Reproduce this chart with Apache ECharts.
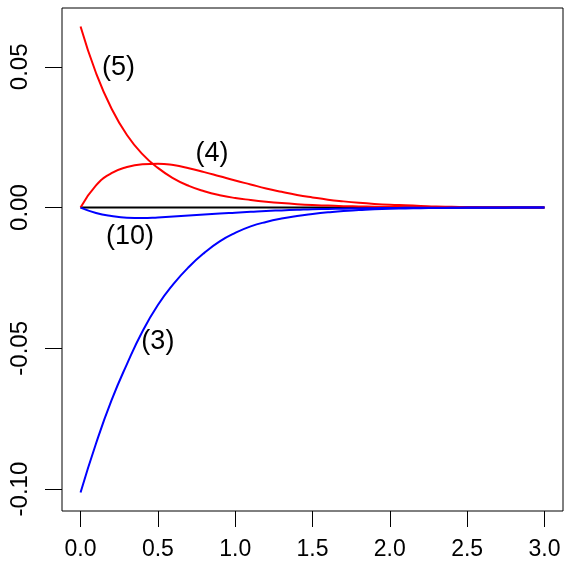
<!DOCTYPE html>
<html>
<head>
<meta charset="utf-8">
<script src="https://cdn.jsdelivr.net/npm/echarts@6/dist/echarts.min.js"></script>
<style>
  html, body { margin: 0; padding: 0; background: #fff; }
  #chart { width: 572px; height: 572px; }
</style>
</head>
<body>
<div id="chart"></div>
<script>
const xs = [0, 0.1, 0.2, 0.3, 0.4, 0.5, 0.6, 0.7, 0.8, 0.9, 1.0,
  1.1, 1.2, 1.3, 1.4, 1.5, 1.6, 1.7, 1.8, 1.9, 2.0,
  2.1, 2.2, 2.3, 2.4, 2.5, 2.6, 2.7, 2.8, 2.9, 3.0];

// curve (5), red
const curve5 = [0.0643, 0.0478, 0.0352, 0.0258, 0.0190, 0.0141, 0.0104, 0.0077, 0.0058, 0.0044, 0.0034,
  0.0027, 0.0021, 0.0016, 0.0012, 0.0009, 0.0007, 0.0005, 0.0004, 0.0003, 0.0002,
  0.00015, 0.0001, 0.00008, 0.00005, 0.00003, 0.00002, 0.00001, 0, 0, 0];
// curve (4), red
const curve4 = [0, 0.0079, 0.0122, 0.0144, 0.0154, 0.0156, 0.0151, 0.0140, 0.0126, 0.0111, 0.0096,
  0.0082, 0.0068, 0.0056, 0.0045, 0.0036, 0.0028, 0.0022, 0.0017, 0.0013, 0.0010,
  0.0008, 0.0006, 0.0004, 0.0003, 0.0002, 0.00015, 0.0001, 0.00007, 0.00005, 0.00003];
// curve (10), blue
const curve10 = [0, -0.0019, -0.0030, -0.0036, -0.0037, -0.0035, -0.0032, -0.0028, -0.0025, -0.0021, -0.0018,
  -0.0015, -0.0012, -0.0010, -0.0008, -0.0006, -0.0005, -0.0004, -0.0003, -0.0002, -0.00015,
  -0.0001, -0.00008, -0.00005, -0.00003, -0.00002, -0.00001, 0, 0, 0, 0];
// curve (3), blue
const curve3 = [-0.1012, -0.0838, -0.0685, -0.0556, -0.0440, -0.0346, -0.0272, -0.0211, -0.0161, -0.0120, -0.0090,
  -0.0067, -0.0051, -0.0039, -0.0030, -0.0023, -0.0017, -0.0012, -0.0009, -0.0006, -0.0004,
  -0.0003, -0.0002, -0.00015, -0.0001, -0.00007, -0.00005, -0.00003, -0.00002, -0.00001, 0];

const zeroLine = [[0, 0], [3, 0]];

// curve labels: [x, y, text]
const labels = [
  [0.245, 0.0497, '(5)'],
  [0.85, 0.0192, '(4)'],
  [0.32, -0.0103, '(10)'],
  [0.50, -0.0476, '(3)']
];

const xTicks = [0, 0.5, 1, 1.5, 2, 2.5, 3];
const yTicks = [-0.10, -0.05, 0, 0.05];

const FONT = 'Liberation Sans, Arial, Helvetica, sans-serif';

let pair = function (ys) {
  return xs.map((x, i) => [x, ys[i]]);
};

let lineSeries = function (data, color, width) {
  return {
    type: 'line',
    data: data,
    smooth: 0.5,
    showSymbol: false,
    symbol: 'none',
    lineStyle: { color: color, width: width },
    silent: true
  };
};

const chart = echarts.init(document.getElementById('chart'), null, { renderer: 'canvas' });

chart.setOption({
  animation: false,
  backgroundColor: '#fff',
  grid: {
    left: 62, right: 9, top: 8, bottom: 61,
    show: true, borderColor: '#000', borderWidth: 1, backgroundColor: 'transparent'
  },
  xAxis: {
    type: 'value',
    min: -0.12, max: 3.12,
    axisLine: { show: false, onZero: false },
    splitLine: { show: false },
    axisTick: { show: true, inside: false, length: 16, lineStyle: { color: '#000' }, customValues: xTicks },
    axisLabel: {
      customValues: xTicks, margin: 27,
      fontSize: 23, color: '#000', fontFamily: FONT,
      formatter: v => v.toFixed(1)
    }
  },
  yAxis: {
    type: 'value',
    min: -0.1078, max: 0.0709,
    axisLine: { show: false, onZero: false },
    splitLine: { show: false },
    axisTick: { show: true, inside: false, length: 17, lineStyle: { color: '#000' }, customValues: yTicks },
    axisLabel: {
      customValues: yTicks, margin: 30, rotate: 90,
      fontSize: 24, color: '#000', fontFamily: FONT,
      formatter: v => v.toFixed(2)
    }
  },
  series: [
    lineSeries(zeroLine, '#000', 2),
    lineSeries(pair(curve5), '#ff0000', 2),
    lineSeries(pair(curve4), '#ff0000', 2),
    lineSeries(pair(curve10), '#0000ff', 2),
    lineSeries(pair(curve3), '#0000ff', 2),
    {
      type: 'scatter',
      symbolSize: 0,
      silent: true,
      itemStyle: { opacity: 1 },
      data: labels.map(l => ({ value: [l[0], l[1]], name: l[2] })),
      label: {
        show: true, position: 'inside', opacity: 1,
        formatter: p => p.name,
        fontSize: 27, color: '#000', fontFamily: FONT,
        textBorderWidth: 0, textBorderColor: 'transparent'
      }
    }
  ]
});
</script>
</body>
</html>
